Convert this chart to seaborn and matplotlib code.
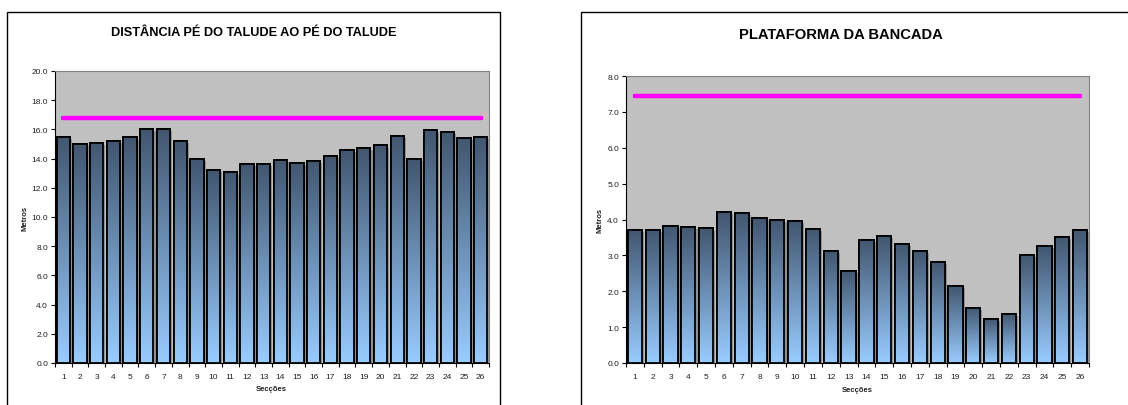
import numpy as np
import pandas as pd
import matplotlib
matplotlib.use("Agg")
import matplotlib.pyplot as plt
import matplotlib.patheffects as pe
from matplotlib.patches import Rectangle
from matplotlib.colors import LinearSegmentedColormap
import seaborn as sns

# Sections along the bench
seccoes = [str(i) for i in range(1, 27)]

# Toe-to-toe distance per section (m) and design reference
distancia_pe = [15.5, 15.0, 15.1, 15.2, 15.45, 16.05, 16.05, 15.2, 13.95, 13.2,
                13.05, 13.65, 13.65, 13.9, 13.7, 13.85, 14.15, 14.6, 14.7, 14.9,
                15.55, 13.95, 15.95, 15.8, 15.4, 15.5]
distancia_ref = 16.75

# Bench platform width per section (m) and design reference
plataforma = [3.72, 3.70, 3.82, 3.78, 3.75, 4.20, 4.18, 4.04, 4.00, 3.97,
              3.74, 3.12, 2.57, 3.44, 3.54, 3.32, 3.12, 2.81, 2.14, 1.54,
              1.24, 1.37, 3.00, 3.25, 3.52, 3.72]
plataforma_ref = 7.45

sns.set_theme(style="white")
plt.rcParams["font.family"] = ["Liberation Sans", "DejaVu Sans"]

grad_cmap = LinearSegmentedColormap.from_list("bar_grad", ["#99ccff", "#42566f"])
grad_img = np.linspace(0, 1, 256).reshape(-1, 1)


def draw_panel(fig, rect, values, ref, ymax, ystep, title, title_xy, title_size,
               xlabel_xy, ylabel_xy):
    ax = fig.add_axes(rect)
    df = pd.DataFrame({"Secções": seccoes, "Metros": values})
    sns.barplot(data=df, x="Secções", y="Metros", ax=ax, color="#42566f",
                width=0.8, edgecolor="black", linewidth=1.3, zorder=2)
    ax.set_ylim(0, ymax)
    ax.set_xlim(-0.5, len(seccoes) - 0.5)

    # vertical gradient fill inside each bar, with a soft drop shadow
    for p in list(ax.patches):
        x0, y0 = p.get_x(), p.get_y()
        w, h = p.get_width(), p.get_height()
        p.set_path_effects([pe.SimplePatchShadow(offset=(1.5, -1.5), shadow_rgbFace="#8c8c8c", alpha=0.9),
                            pe.Normal()])
        im = ax.imshow(grad_img, extent=(x0, x0 + w, y0, y0 + h), origin="lower",
                       cmap=grad_cmap, aspect="auto", zorder=2.5, interpolation="bilinear")
        im.set_clip_path(p)
        ax.add_patch(Rectangle((x0, y0), w, h, facecolor="none", edgecolor="black",
                               linewidth=1.3, zorder=3))

    sns.lineplot(x=seccoes, y=[ref] * len(seccoes), ax=ax, color="#ff00ff", linewidth=3.2,
                 marker="s", markersize=3.5, markeredgewidth=0, zorder=4, sort=False)

    ax.set_facecolor("#c0c0c0")
    for side in ("top", "right"):
        ax.spines[side].set_color("#808080")
        ax.spines[side].set_linewidth(0.8)
    for side in ("left", "bottom"):
        ax.spines[side].set_color("black")
        ax.spines[side].set_linewidth(0.8)

    ax.set_yticks(np.arange(0, ymax + ystep / 2, ystep))
    ax.set_yticklabels([f"{v:.1f}" for v in np.arange(0, ymax + ystep / 2, ystep)])
    ax.tick_params(axis="y", which="major", direction="out", length=3, width=0.8,
                   labelsize=6, colors="black", left=True, pad=2)
    ax.tick_params(axis="x", which="major", length=0, labelsize=6, pad=7)
    ax.set_xticks(np.arange(-0.5, len(seccoes), 1.0), minor=True)
    ax.tick_params(axis="x", which="minor", direction="out", length=3, width=0.8,
                   bottom=True, color="black")
    for lbl in ax.get_xticklabels() + ax.get_yticklabels():
        lbl.set_color("#202020")
    ax.set_xlabel("")
    ax.set_ylabel("")
    ax.grid(False)

    fig.text(title_xy[0], title_xy[1], title, ha="center", va="center",
             fontsize=title_size, fontweight="bold", color="black")
    fig.text(xlabel_xy[0], xlabel_xy[1], "Secções", ha="center", va="center",
             fontsize=5.5, fontweight="bold", color="#202020")
    fig.text(ylabel_xy[0], ylabel_xy[1], "Metros", ha="center", va="center",
             rotation=90, fontsize=5.5, fontweight="bold", color="#202020")
    return ax


W, H = 1128, 406
fig = plt.figure(figsize=(W / 100, H / 100), dpi=100)
fig.patch.set_facecolor("white")

# chart area frames
fig.add_artist(Rectangle((7 / W, -0.05), (500 - 7) / W, 1.05 - 13 / H,
                         transform=fig.transFigure, facecolor="none",
                         edgecolor="black", linewidth=1.0))
fig.add_artist(Rectangle((581 / W, -0.05), (1140 - 581) / W, 1.05 - 13 / H,
                         transform=fig.transFigure, facecolor="none",
                         edgecolor="black", linewidth=1.0))

draw_panel(fig, [55 / W, 42 / H, (489 - 55) / W, 292 / H], distancia_pe, distancia_ref,
           20.0, 2.0, "DISTÂNCIA PÉ DO TALUDE AO PÉ DO TALUDE",
           (254 / W, 1 - 33 / H), 9.2, (271 / W, 1 - 390 / H), (25 / W, 1 - 218 / H))
draw_panel(fig, [626 / W, 42 / H, (1089 - 626) / W, 287 / H], plataforma, plataforma_ref,
           8.0, 1.0, "PLATAFORMA DA BANCADA",
           (841 / W, 1 - 35 / H), 10.6, (857 / W, 1 - 391 / H), (600 / W, 1 - 220 / H))

fig.savefig("out.png", dpi=100, facecolor="white")
